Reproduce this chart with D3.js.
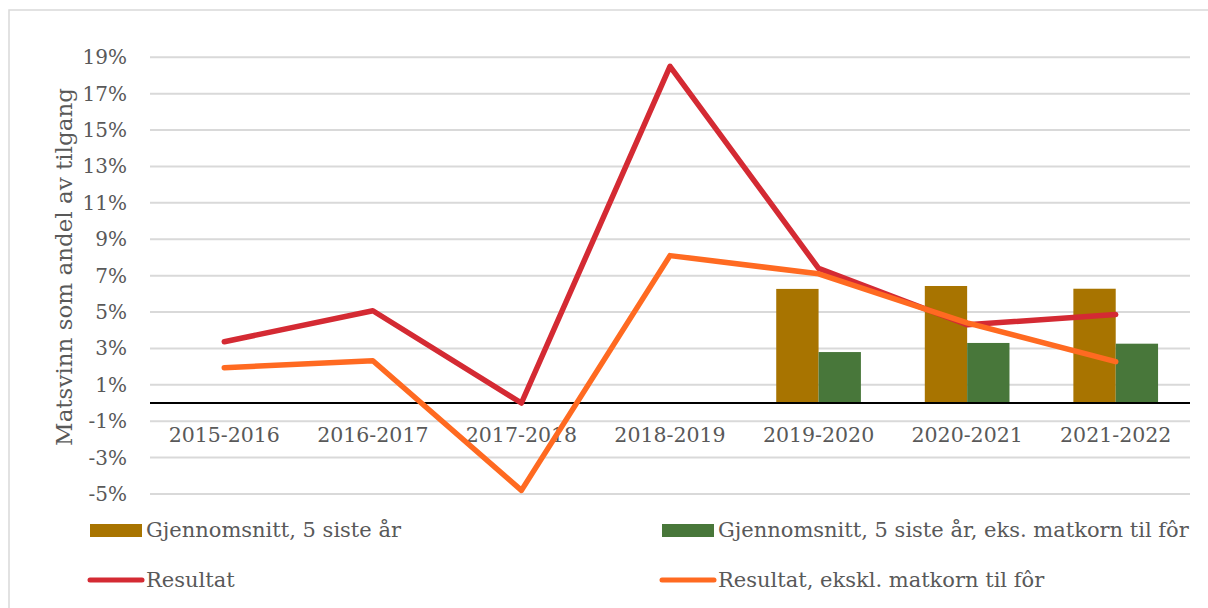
<!DOCTYPE html>
<html>
<head>
<meta charset="utf-8">
<script src="https://cdn.jsdelivr.net/npm/d3@7"></script>
<style>
  body { margin: 0; background: #fff; }
  svg text { font-family: "DejaVu Serif", Georgia, serif; fill: #595959; }
</style>
</head>
<body>
<div id="chart"></div>
<script>
var seasons = ["2015-2016", "2016-2017", "2017-2018", "2018-2019", "2019-2020", "2020-2021", "2021-2022"];
var resultat = [3.37, 5.07, 0.0, 18.5, 7.4, 4.3, 4.86];
var resultatEkskl = [1.94, 2.32, -4.8, 8.1, 7.1, 4.4, 2.27];
var barSeasons = ["2019-2020", "2020-2021", "2021-2022"];
var snitt5 = [6.27, 6.43, 6.28];
var snitt5Eks = [2.80, 3.30, 3.26];
var yTicks = [-5, -3, -1, 1, 3, 5, 7, 9, 11, 13, 15, 17, 19];

var legendNames = ["Gjennomsnitt, 5 siste år", "Gjennomsnitt, 5 siste år, eks. matkorn til fôr",
                   "Resultat", "Resultat, ekskl. matkorn til fôr"];

var W = 1208, H = 608;

var svg = d3.select("#chart").append("svg")
    .attr("width", W).attr("height", H);

// outer frame
svg.append("rect")
    .attr("x", 9).attr("y", 10).attr("width", W + 20).attr("height", H + 20)
    .style("fill", "none").style("stroke", "#d9d9d9").style("stroke-width", 1.5);

var x = d3.scaleBand().domain(seasons).range([150, 1190]);
var y = d3.scaleLinear().domain([-5, 19]).range([494, 57.25]);

// gridlines
svg.append("g").selectAll("line")
    .data(yTicks).enter().append("line")
    .attr("x1", 150).attr("x2", 1190)
    .attr("y1", function(d){ return y(d); })
    .attr("y2", function(d){ return y(d); })
    .style("stroke", "#d9d9d9").style("stroke-width", 2);

// y tick labels
svg.append("g").selectAll("text")
    .data(yTicks).enter().append("text")
    .attr("x", 127).attr("y", function(d){ return y(d); })
    .attr("dy", "0.35em")
    .style("text-anchor", "end")
    .style("font-size", "20px")
    .text(function(d){ return d + "%"; });

// axis title
svg.append("text")
    .attr("transform", "translate(72," + 267 + ") rotate(-90)")
    .style("text-anchor", "middle")
    .style("font-size", "23px")
    .text("Matsvinn som andel av tilgang");

// bars
var x1 = d3.scaleBand().domain([0, 1]).range([0, x.bandwidth() * 0.57]);
var groupOff = (x.bandwidth() - x.bandwidth() * 0.57) / 2;
var barSeries = [{vals: snitt5, color: "#a87400"}, {vals: snitt5Eks, color: "#48773a"}];
barSeries.forEach(function(s, si){
  svg.append("g").selectAll("rect")
    .data(barSeasons).enter().append("rect")
    .attr("x", function(d){ return x(d) + groupOff + x1(si); })
    .attr("width", x1.bandwidth())
    .attr("y", function(d, i){ return y(s.vals[i]); })
    .attr("height", function(d, i){ return y(0) - y(s.vals[i]); })
    .style("fill", s.color);
});

// zero line
svg.append("line")
    .attr("x1", 150).attr("x2", 1190)
    .attr("y1", y(0)).attr("y2", y(0))
    .style("stroke", "#000").style("stroke-width", 2);

// x labels
svg.append("g").selectAll("text")
    .data(seasons).enter().append("text")
    .attr("x", function(d){ return x(d) + x.bandwidth() / 2; })
    .attr("y", 442)
    .style("text-anchor", "middle")
    .style("font-size", "20.5px")
    .text(function(d){ return d; });

// lines
var line = d3.line()
    .x(function(d, i){ return x(seasons[i]) + x.bandwidth() / 2; })
    .y(function(d){ return y(d); });

[{vals: resultat, color: "#d42a33"}, {vals: resultatEkskl, color: "#ff6a21"}].forEach(function(s){
  svg.append("path")
    .datum(s.vals)
    .attr("d", line)
    .style("fill", "none")
    .style("stroke", s.color)
    .style("stroke-width", 5.5)
    .style("stroke-linecap", "round")
    .style("stroke-linejoin", "round");
});

// legend
var legendItems = [
  {name: legendNames[0], color: "#a87400", type: "rect", x: 90, y: 530},
  {name: legendNames[1], color: "#48773a", type: "rect", x: 662, y: 530},
  {name: legendNames[2], color: "#d42a33", type: "line", x: 90, y: 580},
  {name: legendNames[3], color: "#ff6a21", type: "line", x: 662, y: 580}
];
var lg = svg.append("g");
legendItems.forEach(function(d){
  if (d.type == "rect") {
    lg.append("rect").attr("x", d.x).attr("y", d.y - 6).attr("width", 52).attr("height", 13)
      .style("fill", d.color);
  } else {
    lg.append("line").attr("x1", d.x).attr("x2", d.x + 52).attr("y1", d.y).attr("y2", d.y)
      .style("stroke", d.color).style("stroke-width", 5).style("stroke-linecap", "round");
  }
  lg.append("text")
    .attr("x", d.x + 56).attr("y", d.y).attr("dy", "0.35em")
    .style("font-size", "21px")
    .text(d.name);
});
</script>
</body>
</html>
